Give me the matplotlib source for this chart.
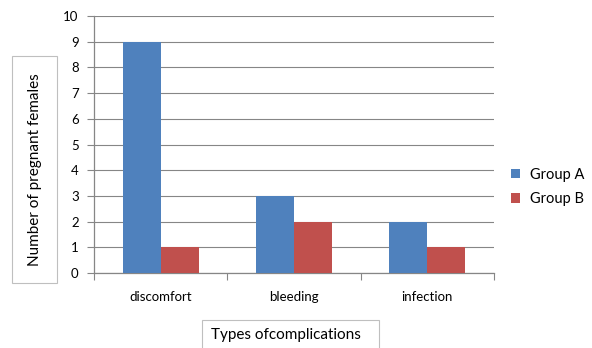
import matplotlib
matplotlib.use("Agg")
import matplotlib.pyplot as plt
from matplotlib.patches import Rectangle
import numpy as np

categories = ["discomfort", "bleeding", "infection"]
group_a = [9, 3, 2]
group_b = [1, 2, 1]
series_names = ["Group A", "Group B"]
yticks = list(range(0, 11))

plt.rcParams['font.family'] = ['Lato', 'DejaVu Sans']

W, H = 592, 348
fig = plt.figure(figsize=(W / 100, H / 100), dpi=100)
ax = fig.add_axes([94 / W, 1 - 273 / H, (494 - 94) / W, (273 - 16) / H])

x = np.arange(len(categories))
bw = 0.285
ax.bar(x - bw / 2, group_a, bw, color="#4F81BD", label=series_names[0], zorder=3)
ax.bar(x + bw / 2, group_b, bw, color="#C0504D", label=series_names[1], zorder=3)

ax.set_xlim(-0.5, len(categories) - 0.5)
ax.set_ylim(0, 10)
ax.set_yticks(yticks)
ax.set_yticklabels([str(v) for v in yticks], fontsize=9.5)
ax.set_xticks(np.arange(len(categories) + 1) - 0.5, minor=False)
ax.set_xticklabels([])
ax.set_xticks(x, minor=True)
ax.set_xticklabels(categories, minor=True, fontsize=9.5)
ax.tick_params(axis='x', which='minor', length=0, pad=13)
ax.tick_params(axis='x', which='major', length=5, color="#868686", direction='out')
ax.tick_params(axis='y', length=5, color="#868686", direction='out', pad=6)

ax.grid(axis='y', color="#868686", linewidth=0.8, zorder=0)
for s in ["top", "right"]:
    ax.spines[s].set_visible(False)
for s in ["left", "bottom"]:
    ax.spines[s].set_color("#868686")
    ax.spines[s].set_linewidth(0.9)

# Boxed axis titles
fig.text(35 / W, 1 - 170 / H, "Number of pregnant females", rotation=90,
         ha='center', va='center', fontsize=11)
fig.text(286 / W, 1 - 335 / H, "Types ofcomplications",
         ha='center', va='center', fontsize=11)

fig.patches.append(Rectangle((12 / W, 1 - 283 / H), 45 / W, 227 / H,
                             transform=fig.transFigure, fill=False,
                             ec='#bfbfbf', lw=0.8))
fig.patches.append(Rectangle((202 / W, 1 - 349 / H), 177 / W, 29 / H,
                             transform=fig.transFigure, fill=False,
                             ec='#bfbfbf', lw=0.8))

ax.legend(loc='center left', bbox_to_anchor=(511 / W, 1 - 187 / H),
          bbox_transform=fig.transFigure, frameon=False, fontsize=10.5,
          handlelength=0.6, handleheight=0.6, handletextpad=0.7,
          labelspacing=0.7, borderpad=0, borderaxespad=0)

fig.savefig("out.png", dpi=100, facecolor='white')
